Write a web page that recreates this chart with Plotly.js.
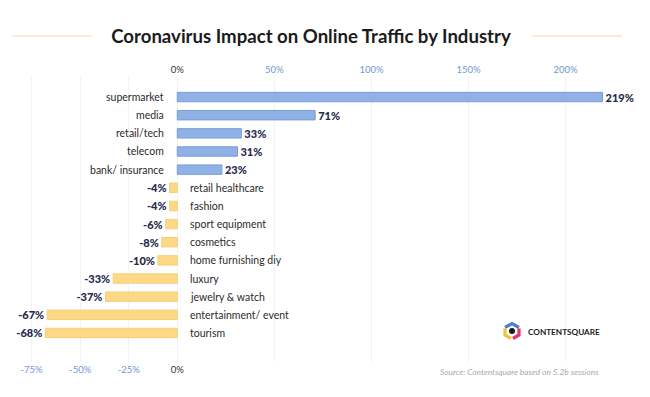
<!DOCTYPE html>
<html>
<head>
<meta charset="utf-8">
<script src="https://cdn.plot.ly/plotly-3.0.1.min.js"></script>
<style>html,body{margin:0;padding:0;background:#fff;}#chart{width:650px;height:397px;}</style>
</head>
<body>
<div id="chart"></div>
<script>
// ---- data ----
var categories = ["supermarket","media","retail/tech","telecom","bank/ insurance","retail healthcare","fashion","sport equipment","cosmetics","home furnishing diy","luxury","jewelry & watch","entertainment/ event","tourism"];
var values = [219, 71, 33, 31, 23, -4, -4, -6, -8, -10, -33, -37, -67, -68];
var topTicks = [0, 50, 100, 150, 200];
var topTickLabels = ["0%","50%","100%","150%","200%"];
var bottomTicks = [-75, -50, -25, 0];
var bottomTickLabels = ["-75%","-50%","-25%","0%"];
var titleText = "Coronavirus Impact on Online Traffic by Industry";
var sourceText = "Source: Contentsquare based on 5.2b sessions";
var logoText = "CONTENTSQUARE";

// ---- layout geometry ----
var W = 650, H = 397, ML = 20, MR = 30, MT = 76, MB = 35;
var PW = W - ML - MR, PH = H - MT - MB;
function px(x){ return (x - ML) / PW; }
function py(y){ return (H - MB - y) / PH; }

var BLUE = "#8fb1e6", BLUE_LINE = "#7b9dd6", YELLOW = "#fdd886", NAVY = "#1f2a4c", TICKBLUE = "#7098d2";
var FONT = "Lato, 'Open Sans', sans-serif";

var barColors = values.map(function(v){ return v >= 0 ? BLUE : YELLOW; });
var barLines = values.map(function(v){ return v >= 0 ? BLUE_LINE : "#f7cf78"; });

var bars = {
  type: "bar", orientation: "h",
  x: values, y: categories,
  marker: {color: barColors, line: {color: barLines, width: 1}},
  width: 0.52,
  text: values.map(function(v){ return v + "%"; }),
  textposition: "outside",
  constraintext: "none",
  textfont: {family: FONT, size: 11, color: NAVY, weight: 900},
  cliponaxis: false,
  hoverinfo: "skip",
  xaxis: "x", yaxis: "y"
};
// invisible trace on top axis so xaxis2 gets drawn
var ghost = {
  type: "scatter", mode: "markers", x: [0], y: [categories[0]],
  marker: {opacity: 0}, hoverinfo: "skip", xaxis: "x2", yaxis: "y", showlegend: false
};

var annotations = categories.map(function(c, i){
  var pos = values[i] >= 0;
  return {
    x: 0, y: c, xref: "x", yref: "y",
    text: c, showarrow: false,
    xanchor: pos ? "right" : "left",
    xshift: pos ? -11 : 11,
    font: {family: FONT, size: 10.5, color: "#2b2b2b"}
  };
});
annotations.push({
  xref: "paper", yref: "paper", x: px(601), y: py(372),
  xanchor: "right", yanchor: "middle", showarrow: false,
  text: "<i>" + sourceText + "</i>",
  font: {family: FONT, size: 8.3, color: "#a9a9a9"}
});
annotations.push({
  xref: "paper", yref: "paper", x: px(526), y: py(331.5),
  xanchor: "left", yanchor: "middle", showarrow: false,
  text: "<b>" + logoText + "</b>",
  font: {family: FONT, size: 8.2, color: "#222"}
});

function pathOf(pts){
  return pts.map(function(p, i){ return (i ? "L" : "M") + px(p[0]) + "," + py(p[1]); }).join(" ");
}
var cx = 512, cy = 331;
var shapes = [
  {type: "line", xref: "paper", yref: "paper", x0: px(12), x1: px(92), y0: py(36), y1: py(36), line: {color: "#f8dc9a", width: 1.2}},
  {type: "line", xref: "paper", yref: "paper", x0: px(532), x1: px(622), y0: py(36), y1: py(36), line: {color: "#f8dc9a", width: 1.2}},
  {type: "path", xref: "paper", yref: "paper", path: pathOf([[cx-7,cy-3.5],[cx,cy-7.5],[cx+7,cy-3.5]]), line: {color: "#4a7fd0", width: 3.2}},
  {type: "path", xref: "paper", yref: "paper", path: pathOf([[cx-7,cy-2.5],[cx-7,cy+4],[cx-1,cy+7.5]]), line: {color: "#f6c234", width: 3.2}},
  {type: "path", xref: "paper", yref: "paper", path: pathOf([[cx+7,cy-2.5],[cx+7,cy+4],[cx+1,cy+7.5]]), line: {color: "#e8336a", width: 3.2}},
  {type: "circle", xref: "paper", yref: "paper", x0: px(cx-3), x1: px(cx+3), y0: py(cy+3), y1: py(cy-3), fillcolor: "#1a1a1a", line: {width: 0}}
];

var xr = [-81, 228];
var layout = {
  width: W, height: H,
  margin: {l: ML, r: MR, t: MT, b: MB},
  paper_bgcolor: "#fff", plot_bgcolor: "#fff",
  showlegend: false, bargap: 0.45,
  title: {
    text: "<b>" + titleText + "</b>",
    xref: "container", yref: "container", x: 311 / W, y: 1 - 36 / H,
    xanchor: "center", yanchor: "middle",
    font: {family: FONT, size: 18.6, color: "#1b1b1b"}
  },
  xaxis: {
    range: xr, side: "bottom",
    tickvals: bottomTicks, ticktext: bottomTickLabels,
    tickfont: {family: FONT, size: 9.5, color: TICKBLUE},
    showgrid: true, gridcolor: "#f1f2f6", gridwidth: 1,
    zeroline: false, showline: false, ticks: "", fixedrange: true
  },
  xaxis2: {
    range: xr, side: "top", overlaying: "x",
    tickvals: topTicks, ticktext: topTickLabels,
    tickfont: {family: FONT, size: 9.5, color: TICKBLUE},
    showgrid: true, gridcolor: "#f1f2f6", gridwidth: 1,
    zeroline: false, showline: false, ticks: "", fixedrange: true
  },
  yaxis: {
    type: "category", range: [14.6, -1.16],
    showticklabels: false, showgrid: false, zeroline: false, showline: false, ticks: "", fixedrange: true
  },
  annotations: annotations,
  shapes: shapes
};

Plotly.newPlot("chart", [bars, ghost], layout, {displayModeBar: false, staticPlot: true}).then(function(){
  // colour the 0% tick labels dark like the reference
  document.querySelectorAll(".xtick text, .x2tick text").forEach(function(t){
    if (t.textContent === "0%") t.style.fill = "#333";
  });
});
</script>
</body>
</html>
